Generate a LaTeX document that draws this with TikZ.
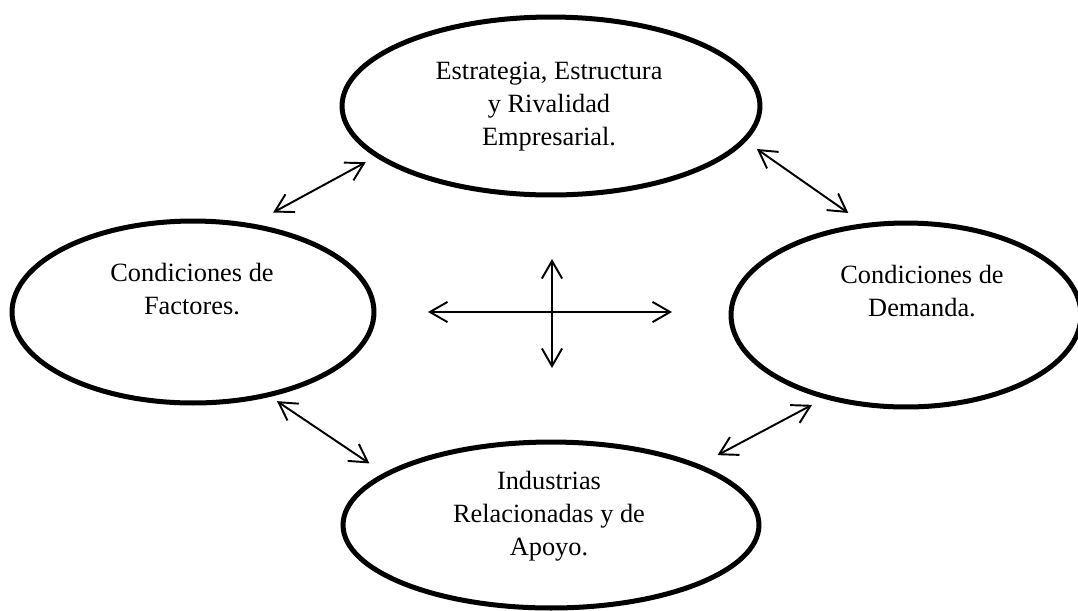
\documentclass[tikz,border=0pt]{standalone}
\usepackage{fontspec}
\setmainfont{Liberation Serif}
\usetikzlibrary{shapes.geometric,arrows.meta}

\begin{document}
\begin{tikzpicture}[x=0.02cm,y=-0.02cm,
		oval/.style={draw,ellipse,line width=2.85pt,inner sep=0pt,outer sep=0pt},
		txt/.style={align=center,anchor=base,inner sep=0pt,font=\fontsize{15}{18.6}\selectfont},
		dbl/.style={line width=1.1pt,{Straight Barb[length=10pt,width=11.5pt]}-{Straight Barb[length=10pt,width=11.5pt]}}]
		\useasboundingbox (0,0) rectangle (1078,610);
		\node [oval,minimum width=8.36cm,minimum height=3.56cm] (estrategia) at (551,106) {};
		\node [oval,minimum width=7.24cm,minimum height=3.64cm] (factores) at (193,312) {};
		\node [oval,minimum width=7cm,minimum height=3.68cm] (demanda) at (906,315) {};
		\node [oval,minimum width=8.32cm,minimum height=3.32cm] (industrias) at (551,525) {};
		\node [txt] (estrategia-txt) at (549,145) {Estrategia, Estructura\\y Rivalidad\\Empresarial.};
		\node [txt] (factores-txt) at (192,314) {Condiciones de\\Factores.};
		\node [txt] (demanda-txt) at (922,316) {Condiciones de\\Demanda.};
		\node [txt] (industrias-txt) at (549,555) {Industrias\\Relacionadas y de\\Apoyo.};
		\draw [dbl,shorten <=0.546cm,shorten >=0.272cm] (factores.57.25) -- (estrategia.196.96);
		\draw [dbl,shorten <=0.312cm,shorten >=0.435cm] (estrategia.350) -- (demanda.114.8);
		\draw [dbl,shorten <=0.224cm,shorten >=0.398cm] (factores.312.5) -- (industrias.163.4);
		\draw [dbl,shorten <=0.462cm,shorten >=0.334cm] (industrias.22.17) -- (demanda.226.5);
		\coordinate (cruz-o) at (428,312);
		\coordinate (cruz-e) at (672,312);
		\coordinate (cruz-n) at (552,259);
		\coordinate (cruz-s) at (552,368);
		\draw [dbl] (cruz-o) -- (cruz-e);
		\draw [dbl] (cruz-n) -- (cruz-s);
	\end{tikzpicture}
\end{document}
